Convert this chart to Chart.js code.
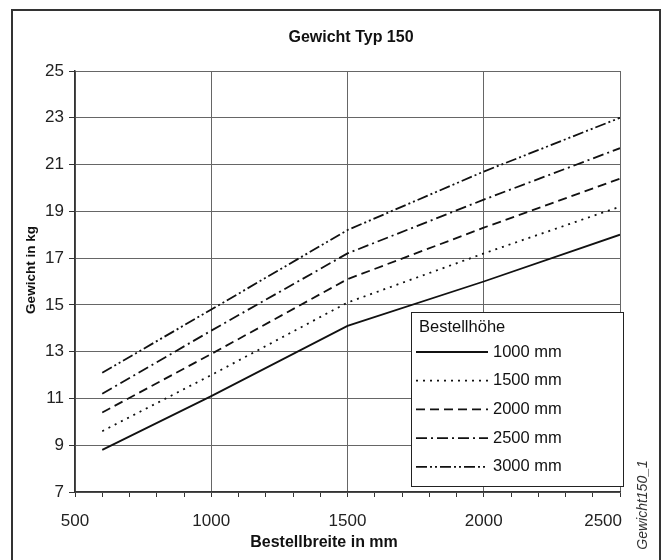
<!DOCTYPE html>
<html>
<head>
<meta charset="utf-8">
<title>Gewicht Typ 150</title>
<script src="https://cdn.jsdelivr.net/npm/chart.js@4/dist/chart.umd.min.js"></script>
<style>
  html, body { margin: 0; padding: 0; background: #fff; }
  canvas { display: block; }
</style>
</head>
<body>
<canvas id="gewichtChart" width="664" height="560"></canvas>
<script>
// Bestellbreite (mm)
var breiten = [600, 1000, 1500, 2000, 2500];
// Gewicht (kg) je Bestellhöhe
var h1000 = [8.8, 11.1, 14.1, 16.0, 18.0];
var h1500 = [9.6, 12.0, 15.1, 17.2, 19.2];
var h2000 = [10.4, 12.9, 16.1, 18.3, 20.4];
var h2500 = [11.2, 13.9, 17.2, 19.5, 21.7];
var h3000 = [12.1, 14.8, 18.2, 20.7, 23.0];
var hoehenLabels = ["1000 mm", "1500 mm", "2000 mm", "2500 mm", "3000 mm"];

var FONT = '"Liberation Sans", Arial, Helvetica, sans-serif';

function punkte(werte) {
  return breiten.map(function (b, i) { return { x: b, y: werte[i] }; });
}

function linie(label, werte, dash) {
  return {
    label: label,
    data: punkte(werte),
    borderColor: '#111',
    borderWidth: 1.8,
    borderDash: dash,
    pointRadius: 0,
    fill: false,
    tension: 0
  };
}

// Rahmen, Titel, Achsentitel, x-Beschriftung, Legende
var beschriftung = {
  id: 'beschriftung',
  afterDraw: function (chart) {
    var c = chart.ctx;
    var xs = chart.scales.x;
    c.save();

    // äußerer Rahmen
    c.strokeStyle = '#333';
    c.lineWidth = 2;
    c.strokeRect(12, 10, 648, 560);

    // x-Achsenbeschriftung (letzte rechtsbündig an der Plotkante)
    c.fillStyle = '#222';
    c.textBaseline = 'middle';
    c.font = '17px ' + FONT;
    xs.ticks.forEach(function (t) {
      if (t.value % 500 !== 0) return;
      var px = xs.getPixelForValue(t.value);
      if (t.value === xs.max) {
        c.textAlign = 'right';
        c.fillText(String(t.value), px + 2, 521);
      } else {
        c.textAlign = 'center';
        c.fillText(String(t.value), px, 521);
      }
    });

    // Titel
    c.fillStyle = '#111';
    c.textAlign = 'center';
    c.font = 'bold 16px ' + FONT;
    c.fillText('Gewicht Typ 150', 351, 38);

    // x-Achsentitel
    c.fillText('Bestellbreite in mm', 324, 543);

    // y-Achsentitel
    c.save();
    c.translate(31, 270);
    c.rotate(-Math.PI / 2);
    c.font = 'bold 13.5px ' + FONT;
    c.fillText('Gewicht in kg', 0, 0);
    c.restore();

    // Bildkennung rechts
    c.save();
    c.translate(643, 505);
    c.rotate(-Math.PI / 2);
    c.font = 'italic 14px ' + FONT;
    c.fillStyle = '#333';
    c.fillText('Gewicht150_1', 0, 0);
    c.restore();

    // Legende
    var lx = 411, ly = 312, lw = 212, lh = 174;
    c.fillStyle = '#fff';
    c.fillRect(lx, ly, lw, lh);
    c.strokeStyle = '#222';
    c.lineWidth = 1;
    c.strokeRect(lx + 0.5, ly + 0.5, lw, lh);

    c.fillStyle = '#111';
    c.textAlign = 'left';
    c.font = '16.5px ' + FONT;
    c.fillText('Bestellhöhe', 419, 327);

    chart.data.datasets.forEach(function (ds, i) {
      var y = 352 + i * 28.7;
      c.beginPath();
      c.strokeStyle = ds.borderColor;
      c.lineWidth = ds.borderWidth;
      c.setLineDash(ds.borderDash);
      c.moveTo(416, y);
      c.lineTo(488, y);
      c.stroke();
      c.setLineDash([]);
      c.fillText(ds.label, 493, y);
    });

    c.restore();
  }
};

var ctx = document.getElementById('gewichtChart');
var gewichtChart = new Chart(ctx, {
  type: 'line',
  data: {
    datasets: [
      linie(hoehenLabels[0], h1000, []),
      linie(hoehenLabels[1], h1500, [2, 5]),
      linie(hoehenLabels[2], h2000, [9, 5]),
      linie(hoehenLabels[3], h2500, [11, 4, 2, 4]),
      linie(hoehenLabels[4], h3000, [11, 3, 2, 3, 2, 3])
    ]
  },
  options: {
    responsive: false,
    animation: false,
    devicePixelRatio: 1,
    layout: {
      padding: { top: 71, right: 44, bottom: 0, left: 0 }
    },
    plugins: {
      legend: { display: false },
      title: { display: false },
      tooltip: { enabled: false }
    },
    scales: {
      x: {
        type: 'linear',
        min: 500,
        max: 2500,
        afterFit: function (s) { s.height = 68; },
        ticks: {
          stepSize: 100,
          display: false,
          autoSkip: false,
          callback: function (v) { return v % 500 === 0 ? String(v) : ''; }
        },
        grid: {
          color: function (c) {
            return c.tick && c.tick.value % 500 === 0 ? '#666' : 'rgba(0,0,0,0)';
          },
          tickColor: '#333',
          tickLength: 5,
          lineWidth: 1
        },
        border: { color: '#333', width: 1.5 }
      },
      y: {
        min: 7,
        max: 25,
        afterFit: function (s) { s.width = 75; },
        ticks: {
          stepSize: 2,
          padding: 5,
          color: '#222',
          font: { family: FONT, size: 17 }
        },
        grid: {
          color: '#666',
          tickColor: '#333',
          tickLength: 6,
          lineWidth: 1
        },
        border: { color: '#333', width: 1.5 }
      }
    }
  },
  plugins: [beschriftung]
});
</script>
</body>
</html>
